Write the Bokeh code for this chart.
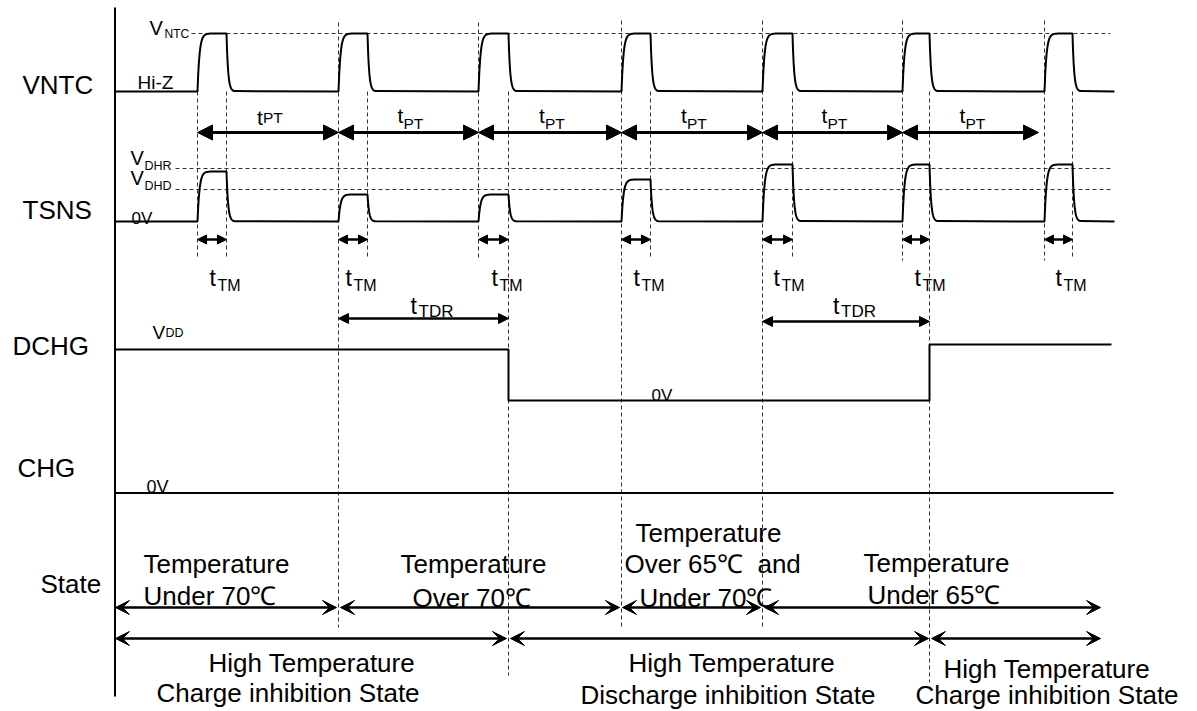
import numpy as np
from bokeh.plotting import figure
from bokeh.models import Range1d, Arrow, NormalHead, VeeHead
from bokeh.embed import file_html
from bokeh.resources import INLINE
from bokeh.core.properties import value

# ---------------- data (diagram time units / signal levels) ----------------
signal_names = ["VNTC", "TSNS", "DCHG", "CHG", "State"]
pulse_rise = [197, 338, 478, 621, 762, 902, 1044]      # VNTC / TSNS pulse start times
pulse_fall = [226, 367, 508, 650, 792, 929, 1072]      # pulse end times
t_begin, t_end = 115, 1114
vntc_low, vntc_high = 91, 33                           # Hi-Z level, VNTC level
tsns_low = 221                                         # 0V level
tsns_peak = [171, 194, 194, 179, 164, 164, 164]        # TSNS pulse amplitudes
v_dhr, v_dhd = 168, 189                                # thresholds
tpt_start = [197, 338, 478, 621, 762, 902]
tpt_end = [338, 478, 621, 762, 902, 1038]
tdr_start = [338, 762]
tdr_end = [508, 929]
dchg_t = [115, 508, 508, 929, 929, 1111]
dchg_v = [349, 349, 400, 400, 344, 344]
chg_t = [115, 1113]
chg_v = [492.5, 492.5]
state_row1 = [(115, 336), (340, 619), (622, 760), (764, 1100)]
state_row2 = [(115, 506), (510, 928), (931, 1100)]

FONT = "Liberation Sans"
NB = "\u00a0"
H = 711

p = figure(width=1197, height=H, x_range=Range1d(0, 1197), y_range=Range1d(H, 0),
           output_backend="svg", toolbar_location=None, min_border=0,
           x_axis_location=None, y_axis_location=None, background_fill_color="white")
p.grid.visible = False
p.outline_line_color = None


def txt(x, y, s, size, align="left"):
    p.text(x=[x], y=[y], text=[s], text_font=value(FONT), text_font_size=value(f"{size}px"),
           text_align=align, text_baseline="alphabetic", text_color="black")


def pulse_wave(low, peaks, tau_r=2.0, tau_f=1.6, tail=8):
    xs, ys = [t_begin], [low]
    for r, f, h in zip(pulse_rise, pulse_fall, peaks):
        xr = np.linspace(r, f, 40)
        yr = low + (h - low) * (1 - np.exp(-(xr - r) / tau_r))
        xf = np.linspace(f, f + tail, 25)
        yf = low + (yr[-1] - low) * np.exp(-(xf - f) / tau_f)
        xs += [r] + list(xr) + list(xf)
        ys += [low] + list(yr) + list(yf)
    xs.append(t_end)
    ys.append(low)
    return xs, ys


# ---------------- dashed guides ----------------
DASH = "4 3"
hx = [[191, 1110], [175, 1110], [175, 1110]]
hy = [[vntc_high] * 2, [v_dhr] * 2, [v_dhd] * 2]
p.multi_line(hx, hy, line_color="#333333", line_width=1, line_dash=DASH)

rise_top = [91, 22, 22, 20, 20, 20, 20]
rise_bot = [258, 627, 260, 627, 627, 260, 260]
fall_top = [91] * 7
fall_bot = [258, 258, 675, 258, 258, 682, 258]
vx = [[t, t] for t in pulse_rise] + [[t, t] for t in pulse_fall]
vy = [[a, b] for a, b in zip(rise_top, rise_bot)] + [[a, b] for a, b in zip(fall_top, fall_bot)]
p.multi_line(vx, vy, line_color="#333333", line_width=1, line_dash=DASH)

# ---------------- axis line ----------------
p.line([114.5, 114.5], [7, 696], line_color="black", line_width=2)

# ---------------- signals ----------------
x1, y1 = pulse_wave(vntc_low, [vntc_high] * 7)
p.line(x1, y1, line_color="black", line_width=2)
x2, y2 = pulse_wave(tsns_low, tsns_peak)
p.line(x2, y2, line_color="black", line_width=2)
p.line(dchg_t, dchg_v, line_color="black", line_width=2)
p.line(chg_t, chg_v, line_color="black", line_width=2)

# ---------------- arrows ----------------
def dbl_arrow(xs, xe, y, head, size, lw):
    mk = lambda: head(size=size, fill_color="black", line_color="black", line_width=1)
    p.add_layout(Arrow(start=mk(), end=mk(), x_start=xs, y_start=y, x_end=xe, y_end=y,
                       line_width=lw, line_color="black"))

for s, e in zip(tpt_start, tpt_end):
    dbl_arrow(s, e, 132, NormalHead, 15, 3)
for r, f in zip(pulse_rise, pulse_fall):
    dbl_arrow(r, f, 239, NormalHead, 9, 2.5)
for (s, e), y in zip(zip(tdr_start, tdr_end), [318, 321]):
    dbl_arrow(s, e, y, NormalHead, 10, 2.5)
for s, e in state_row1:
    dbl_arrow(s, e, 607, VeeHead, 14, 2.5)
for s, e in state_row2:
    dbl_arrow(s, e, 638, VeeHead, 14, 2.5)

# ---------------- labels ----------------
for name, (x, y) in zip(signal_names, [(22, 84), (22, 209), (12, 345), (17, 467), (40, 583)]):
    txt(x, y, name, 26)

txt(149, 27, "V", 20); txt(164, 33, "NTC", 12)
txt(137, 82, "Hi-Z", 19)
txt(130, 157, "V", 20); txt(144, 165, "DHR", 12.5)
txt(130, 177, "V", 20); txt(144, 185, "DHD", 12.5)
txt(131, 218, "0V", 17)
txt(152, 332, "V", 19); txt(165, 332, "DD", 12.5)
txt(651, 395, "0V", 17)
txt(146, 486, "0V", 18)

# tPT labels
for i, (s, e) in enumerate(zip(tpt_start, tpt_end)):
    c = (s + e) / 2
    if i == 0:
        txt(c - 11, 117, "t", 21); txt(c - 5, 117, "PT", 15.5)
    else:
        txt(c - 11, 115, "t", 21); txt(c - 5, 123, "PT", 15.5)

# tTM labels
tm_x = [209, 345, 491, 633, 773, 914, 1055]
for x in tm_x:
    txt(x, 277, "t", 23); txt(x + 8, 285, "TM", 16)

# tTDR labels
for s, e in zip(tdr_start, tdr_end):
    c = (s + e) / 2
    txt(c - 13, 305, "t", 23); txt(c - 5, 311, "TDR", 17)

# state texts
txt(143, 563, "Temperature", 26); txt(143, 595, "Under 70℃", 26)
txt(400, 563, "Temperature", 26); txt(412, 597, "Over 70℃", 26)
txt(635, 532, "Temperature", 26); txt(624, 563, "Over 65℃ " + NB + "and", 26); txt(639, 597, "Under 70℃", 26)
txt(863, 562, "Temperature", 26); txt(867, 594, "Under 65℃", 26)
txt(208, 662, "High Temperature", 26); txt(156, 692, "Charge inhibition State", 26)
txt(628, 662, "High Temperature", 26); txt(580, 694, "Discharge inhibition State", 26)
txt(943, 668, "High Temperature", 26); txt(915, 694, "Charge inhibition State", 26)

open("out.html", "w").write(file_html(p, INLINE))
